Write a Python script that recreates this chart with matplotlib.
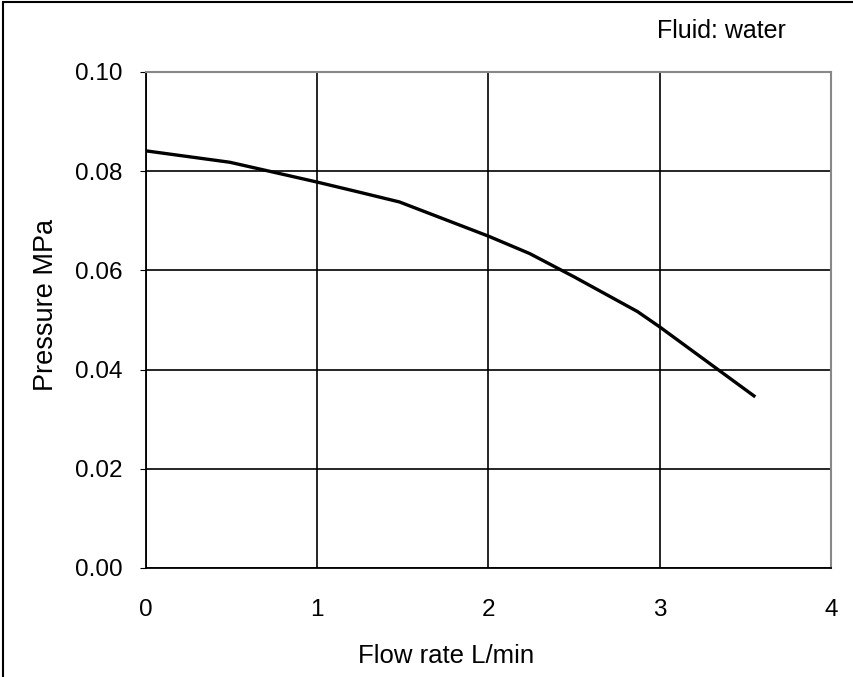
import matplotlib
matplotlib.use("Agg")
import matplotlib.pyplot as plt
from matplotlib.patches import Rectangle

plt.rcParams['font.family'] = ['Liberation Sans', 'DejaVu Sans']

flow = [0.0, 0.49, 1.0, 1.23, 1.48, 2.0, 2.24, 2.5, 2.87, 3.0, 3.55]
pressure = [0.0841, 0.0818, 0.0778, 0.0759, 0.0738, 0.0669, 0.0634, 0.0587, 0.0517, 0.0486, 0.0347]
xticks = [0, 1, 2, 3, 4]
yticks = [0.00, 0.02, 0.04, 0.06, 0.08, 0.10]
ytick_labels = ["0.00", "0.02", "0.04", "0.06", "0.08", "0.10"]

W, H = 854, 677
fig = plt.figure(figsize=(W/100, H/100), dpi=100)
ax = fig.add_axes([146/W, 1-568/H, (831-146)/W, (568-72)/H])

ax.plot(flow, pressure, color='black', lw=2.4, solid_joinstyle='round', zorder=3)
ax.set_xlim(0, 4)
ax.set_ylim(0, 0.10)
ax.set_xticks(xticks)
ax.set_xticklabels([str(t) for t in xticks])
ax.set_yticks(yticks)
ax.set_yticklabels(ytick_labels)
ax.grid(True, color='black', lw=1.2)
ax.tick_params(axis='both', labelsize=17.5, color='black')
ax.tick_params(axis='y', direction='out', length=4, pad=13)
ax.tick_params(axis='x', direction='out', length=0, pad=22)
for s in ['left', 'bottom']:
    ax.spines[s].set_color('black')
    ax.spines[s].set_linewidth(1.3)
for s in ['top', 'right']:
    ax.spines[s].set_color('#888888')
    ax.spines[s].set_linewidth(1.5)

ax.set_xlabel('Flow rate L/min', fontsize=18.5)
ax.xaxis.set_label_coords(446/W, 1-656/H, transform=fig.transFigure)
ax.xaxis.label.set_va('center')
ax.set_ylabel('Pressure MPa', fontsize=19.5)
ax.yaxis.set_label_coords(46/W, 1-305/H, transform=fig.transFigure)
ax.yaxis.label.set_va('center')
fig.text(786/W, 1-31/H, 'Fluid: water', fontsize=18, ha='right', va='center')

fig.patches.append(Rectangle((3/W, -0.1), 1.2, 1-2/H+0.1, transform=fig.transFigure,
                             fill=False, edgecolor='black', lw=1.5))

fig.savefig('out.png', dpi=100)
